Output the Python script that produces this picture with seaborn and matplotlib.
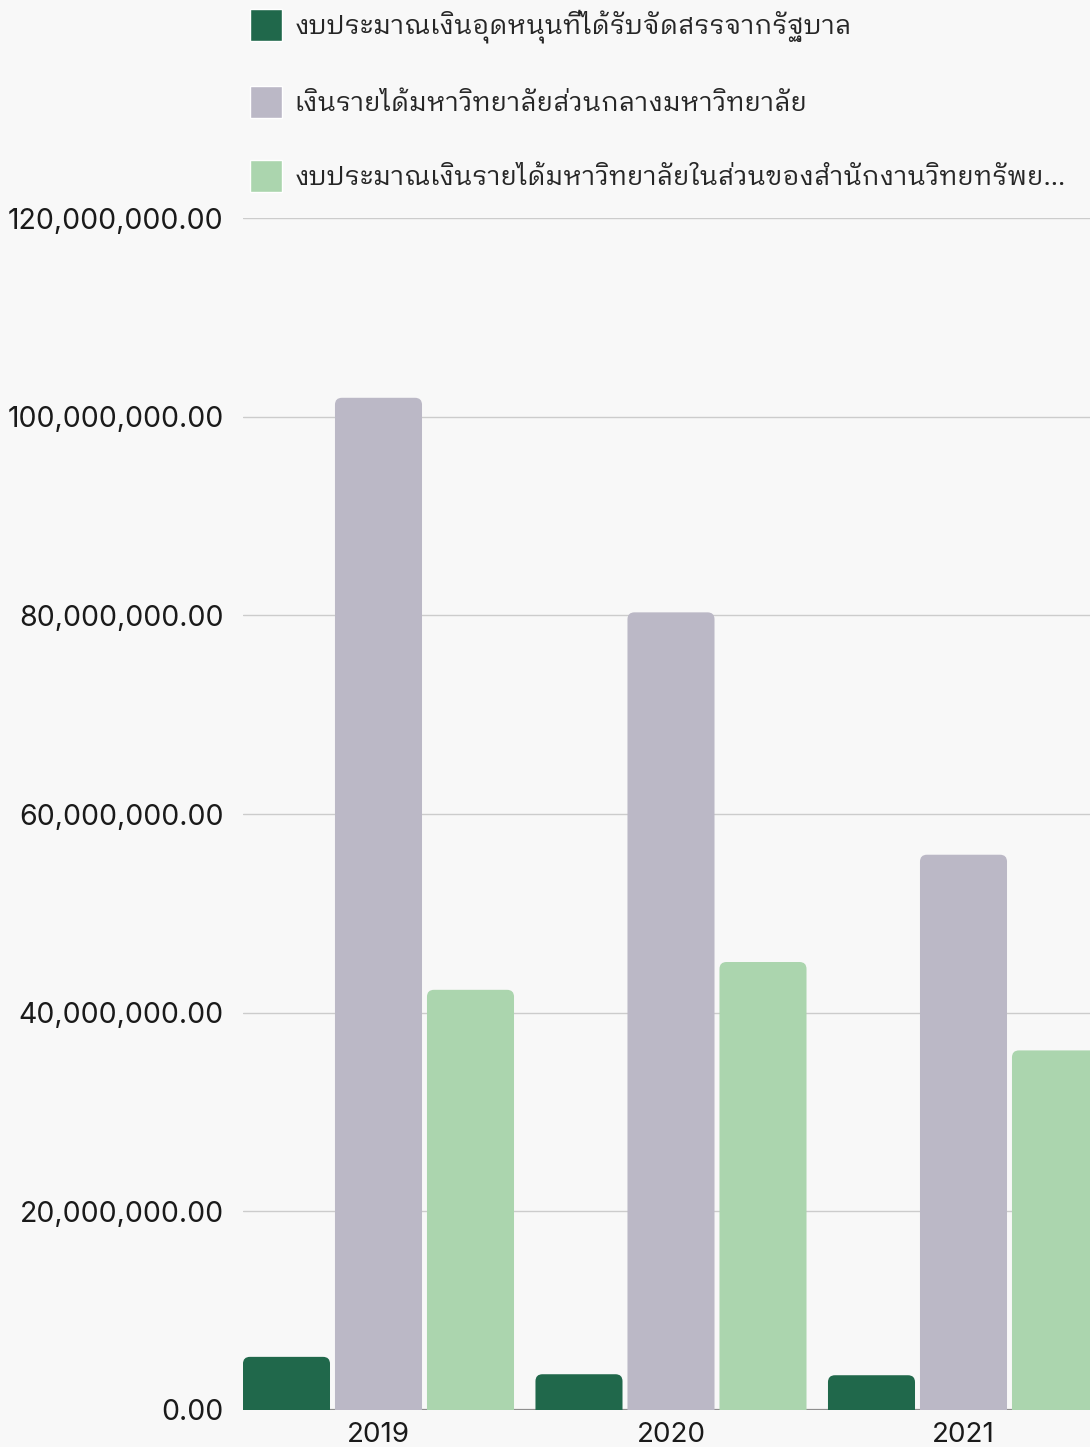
import numpy as np
import pandas as pd
import seaborn as sns
import matplotlib
matplotlib.use("Agg")
import matplotlib.pyplot as plt
from matplotlib import font_manager
from matplotlib.ft2font import FT2Font
from matplotlib.patches import PathPatch
from matplotlib.path import Path
from matplotlib.ticker import FuncFormatter

years = ["2019", "2020", "2021"]
series = [
    "งบประมาณเงินอุดหนุนที่ได้รับจัดสรรจากรัฐบาล",
    "เงินรายได้มหาวิทยาลัยส่วนกลางมหาวิทยาลัย",
    "งบประมาณเงินรายได้มหาวิทยาลัยในส่วนของสำนักงานวิทยทรัพย...",
]
gov_grant = [5_350_000, 3_600_000, 3_500_000]
central_income = [101_900_000, 80_300_000, 55_900_000]
office_income = [42_300_000, 45_100_000, 36_200_000]
colors = ["#20684B", "#BBB8C6", "#ABD5AE"]


def find_thai_font():
    # any installed font that really has Thai glyphs, looped styles first
    found = []
    for f in font_manager.fontManager.ttflist:
        try:
            cmap = FT2Font(f.fname).get_charmap()
        except Exception:
            continue
        if 0x0E07 in cmap and 0x0E1A in cmap:
            found.append(f.name)
    order = ["Looped", "Sarabun", "Loma", "Garuda", "Tlwg", "Waree", "Thai"]
    for key in order:
        for name in found:
            if key in name:
                return name
    return found[0] if found else "DejaVu Sans"


thai_font = find_thai_font()

df = pd.DataFrame({
    "year": years * 3,
    "series": [series[0]] * 3 + [series[1]] * 3 + [series[2]] * 3,
    "value": gov_grant + central_income + office_income,
})

sns.set_theme(style="white")
plt.rcParams["font.family"] = ["Inter", "DejaVu Sans"]

fig = plt.figure(figsize=(10.9, 14.47), dpi=100, facecolor="#F8F8F8")
ax = fig.add_axes([243 / 1090, 1 - 1410 / 1447, 1 - 243 / 1090, (1410 - 218) / 1447])
ax.set_facecolor("#F8F8F8")

sns.barplot(data=df, x="year", y="value", hue="series", palette=colors,
            width=0.9436, gap=0.054, ax=ax, legend=True, saturation=1)

ax.set_xlim(-0.4632, 2.4325)
ax.set_ylim(0, 120_000_000)
ax.set_yticks(np.arange(0, 120_000_001, 20_000_000))
ax.yaxis.set_major_formatter(FuncFormatter(lambda v, p: f"{v:,.2f}"))
ax.grid(axis="y", color="#CCCCCC", linewidth=1)
ax.set_axisbelow(True)
for s in ax.spines.values():
    s.set_visible(False)
ax.axhline(0, color="#8F8F8F", linewidth=1.6, zorder=0.8)
ax.tick_params(axis="y", length=0, pad=14, labelsize=20.5, labelcolor="#1A1A1A")
ax.tick_params(axis="x", length=0, pad=9, labelsize=20, labelcolor="#1A1A1A")
ax.set_xlabel("")
ax.set_ylabel("")

# legend at the top, outside the plot area
handles, labels = ax.get_legend_handles_labels()
ax.legend_.remove()
fs = 19
fig.legend(handles, labels, loc="upper left",
           bbox_to_anchor=(250 / 1090, 1 - 9 / 1447),
           frameon=False, borderpad=0, borderaxespad=0,
           handlelength=1.21, handleheight=1.48, handletextpad=0.49,
           labelspacing=1.62, prop={"family": [thai_font, "DejaVu Sans"], "size": fs})

# swap each bar for one with rounded top corners
bbox = ax.get_window_extent()
xl = ax.get_xlim()
yl = ax.get_ylim()
px_x = bbox.width / (xl[1] - xl[0])
px_y = bbox.height / (yl[1] - yl[0])
rx = 7 / px_x
ry = 7 / px_y
for p in list(ax.patches):
    x, y, w, h = p.get_x(), p.get_y(), p.get_width(), p.get_height()
    if h <= 0:
        continue
    top = y + h
    verts = [(x, y), (x, top - ry), (x, top), (x + rx, top),
             (x + w - rx, top), (x + w, top), (x + w, top - ry),
             (x + w, y), (x, y)]
    codes = [Path.MOVETO, Path.LINETO, Path.CURVE3, Path.CURVE3,
             Path.LINETO, Path.CURVE3, Path.CURVE3, Path.LINETO, Path.CLOSEPOLY]
    ax.add_patch(PathPatch(Path(verts, codes), facecolor=p.get_facecolor(),
                           edgecolor="none", zorder=1))
    p.remove()

fig.savefig("out.png", dpi=100, facecolor=fig.get_facecolor())
